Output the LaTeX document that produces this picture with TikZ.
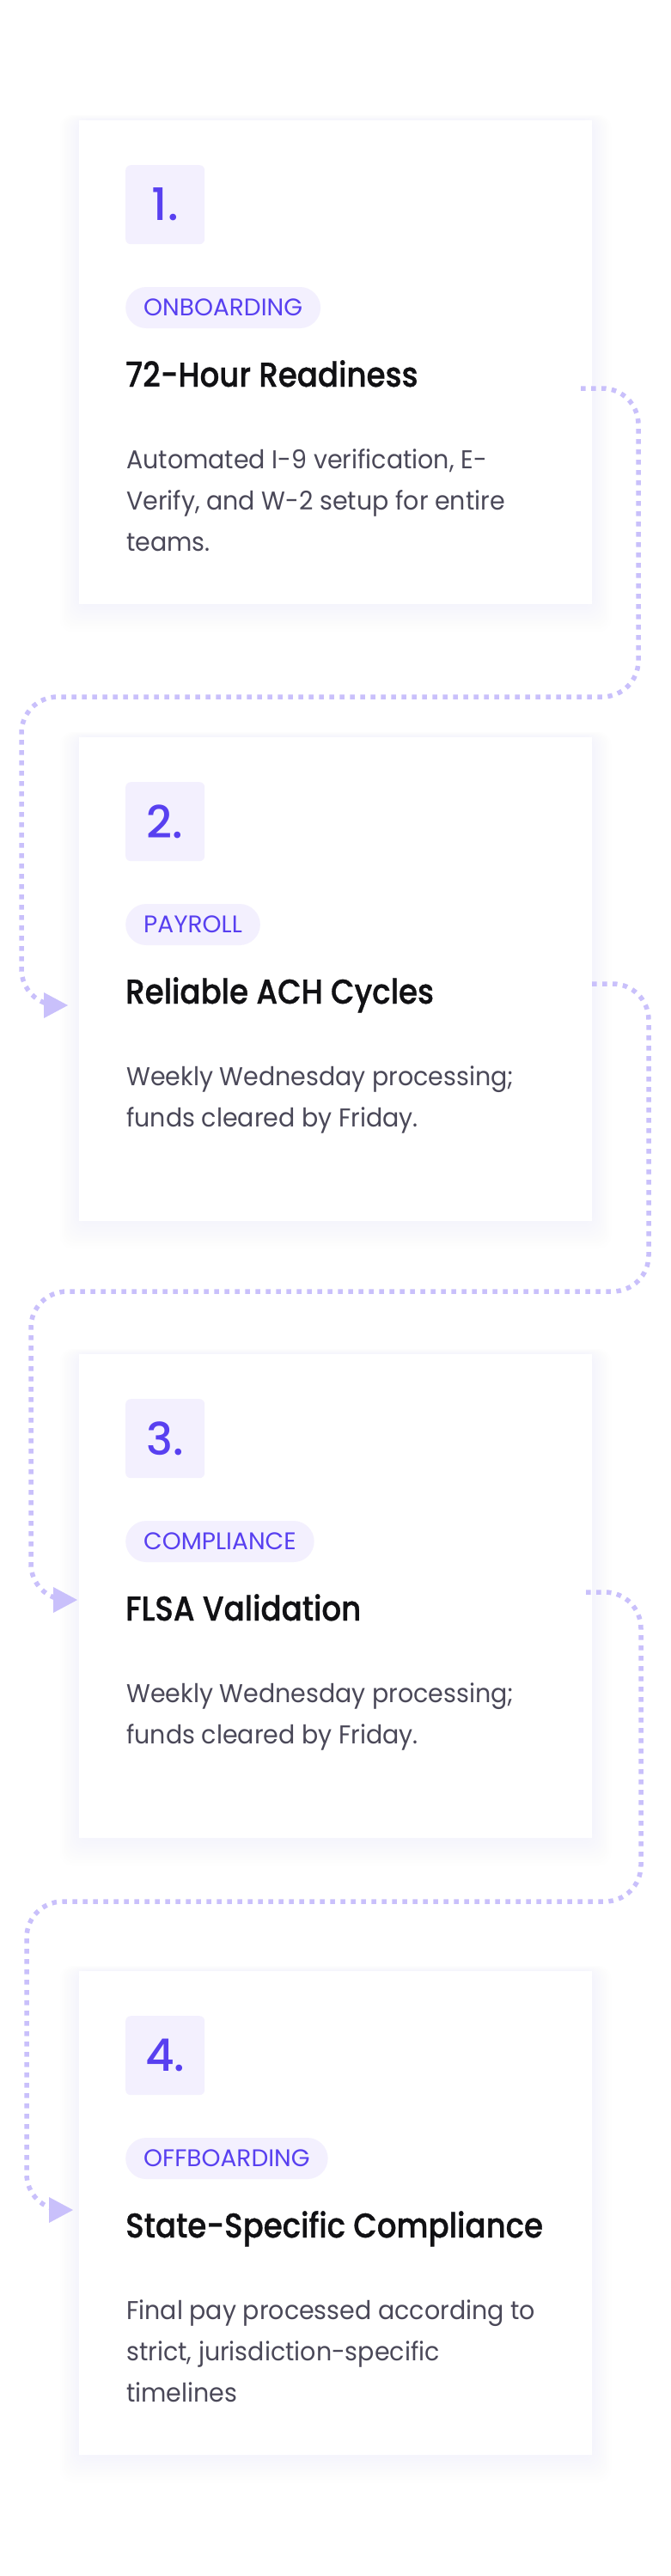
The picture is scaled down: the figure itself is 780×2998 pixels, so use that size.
\documentclass[tikz,border=0pt]{standalone}
\usepackage{fontspec}
\setmainfont{Poppins}[FakeStretch=0.95]
\newfontfamily\medfont{Poppins Medium}[FakeStretch=0.89,FakeBold=0.8]
\newfontfamily\numfont{Poppins Medium}
\newfontfamily\pillfont{Poppins}
\usetikzlibrary{calc}
\definecolor{lav}{RGB}{201,192,251}
\definecolor{boxbg}{RGB}{243,240,254}
\definecolor{purp}{RGB}{88,64,240}
\definecolor{ink}{RGB}{17,17,20}
\definecolor{bodytxt}{RGB}{74,72,88}
\definecolor{shad}{RGB}{236,232,252}
\tikzset{
 card/.style={fill=white, minimum width=597pt, minimum height=563pt, inner sep=0pt, anchor=north west},
 numbox/.style={fill=boxbg, rounded corners=6pt, minimum width=92pt, minimum height=92pt, inner sep=0pt, anchor=north west, text=purp, font=\numfont\fontsize{52}{52}\selectfont},
 pill/.style={fill=boxbg, rounded corners=24pt, minimum height=48pt, inner xsep=21pt, inner ysep=0pt, anchor=west, text=purp, font=\pillfont\fontsize{28}{28}\selectfont},
 ttl/.style={anchor=base west, inner sep=0pt, text=ink, font=\medfont\fontsize{40}{40}\selectfont},
 bodyline/.style={anchor=base west, inner sep=0pt, text=bodytxt, font=\fontsize{30}{30}\selectfont},
 flow/.style={draw=lav, line width=5.5pt, dash pattern=on 5.5pt off 6.5pt, rounded corners=42pt},
 tip/.style={fill=lav},
}
\newcommand\stepcard[6]{%
 \foreach \k in {1,...,10}{\fill[shad,opacity=0.045,rounded corners=14pt] ({92-2.2*\k},{#2-0.6*\k}) rectangle ({689+2.2*\k},{#2+563+3.2*\k});}
 \node[card] (card#1) at (92,#2) {};
 \node[numbox] (num#1) at (146,{#2+52}) {#3};
 \node[pill] (tag#1) at (146,{#2+218}) {#4};
 \node[ttl] (title#1) at (146,{#2+310}) {#5};
 \foreach \ln [count=\i from 0] in {#6}{\node[bodyline] (body#1-\i) at (147,{#2+405+48*\i}) {\ln};}
}
\begin{document}
\begin{tikzpicture}[x=1pt,y=-1pt]
\fill[white] (0,0) rectangle (780,2998);
\useasboundingbox (0,0) rectangle (780,2998);
\stepcard{1}{140}{1.}{ONBOARDING}{72-Hour Readiness}{{Automated I-9 verification, E-},{Verify, and W-2 setup for entire},{teams.}}
\stepcard{2}{858}{2.}{PAYROLL}{Reliable ACH Cycles}{{Weekly Wednesday processing;},{funds cleared by Friday.}}
\stepcard{3}{1576}{3.}{COMPLIANCE}{FLSA Validation}{{Weekly Wednesday processing;},{funds cleared by Friday.}}
\stepcard{4}{2294}{4.}{OFFBOARDING}{State-Specific Compliance}{{Final pay processed according to},{strict, jurisdiction-specific},{timelines}}
% connectors
\coordinate (s1) at (676,452); \coordinate (e1) at (79,1170);
\coordinate (s2) at (689,1145); \coordinate (e2) at (90,1862);
\coordinate (s3) at (682,1853); \coordinate (e3) at (85,2572);
\draw[flow] (s1) -- (743,452) -- (743,811) -- (25,811) -- (25,1170) -- ($(e1)+(-10,0)$);
\fill[tip] (e1) -- ++(-28,-15) -- ++(0,30) -- cycle;
\draw[flow] (s2) -- (755,1145) -- (755,1503) -- (36,1503) -- (36,1862) -- ($(e2)+(-10,0)$);
\fill[tip] (e2) -- ++(-28,-15) -- ++(0,30) -- cycle;
\draw[flow] (s3) -- (746,1853) -- (746,2213) -- (31,2213) -- (31,2572) -- ($(e3)+(-10,0)$);
\fill[tip] (e3) -- ++(-28,-15) -- ++(0,30) -- cycle;
\end{tikzpicture}
\end{document}
